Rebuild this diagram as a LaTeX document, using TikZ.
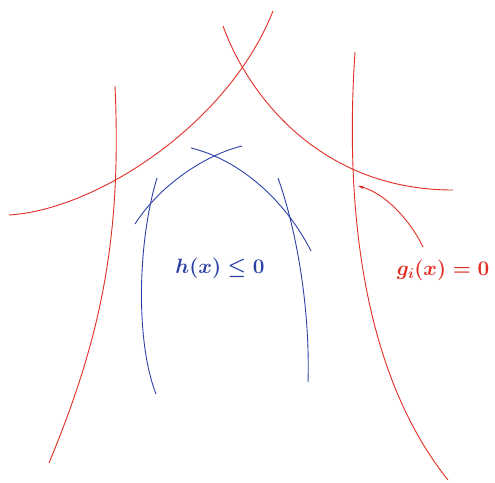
\documentclass[tikz,border=0pt]{standalone}
\usetikzlibrary{arrows.meta}
\definecolor{cred}{RGB}{225,45,35}
\definecolor{cblue}{RGB}{45,65,165}
\begin{document}
\begin{tikzpicture}[x=1pt,y=-1pt,
  redc/.style={draw=cred,line width=0.9pt},
  bluec/.style={draw=cblue,line width=0.9pt},
  lbl/.style={font=\fontsize{21}{25}\selectfont\boldmath}]
\useasboundingbox (0,0) rectangle (495,482);
% red curves
\draw[redc] (115,86) .. controls (122,240) and (100,340) .. (49,463);
\draw[redc] (9,215) .. controls (95,210) and (228,125) .. (273,11);
\draw[redc] (223,26) .. controls (248,95) and (320,190) .. (453,190);
\draw[redc] (355,52) .. controls (345,200) and (360,370) .. (448,480);
% blue curves
\draw[bluec] (157,178) .. controls (138,240) and (135,340) .. (156,394);
\draw[bluec] (135,224) .. controls (160,185) and (205,155) .. (242,146);
\draw[bluec] (191,148) .. controls (240,160) and (285,200) .. (311,251);
\draw[bluec] (278,178) .. controls (300,240) and (310,320) .. (308,382);
% labels
\node[lbl,text=cblue] (h) at (220,268) {$h(x)\leq 0$};
\node[lbl,text=cred] (g) at (443,270) {$g_i(x)=0$};
\coordinate (tip) at (358,186);
\coordinate (tail) at (423,247);
\draw[redc,-{Stealth[length=6pt,width=3.5pt]}] (tail) .. controls (410,220) and (385,193) .. (tip);
\end{tikzpicture}
\end{document}
